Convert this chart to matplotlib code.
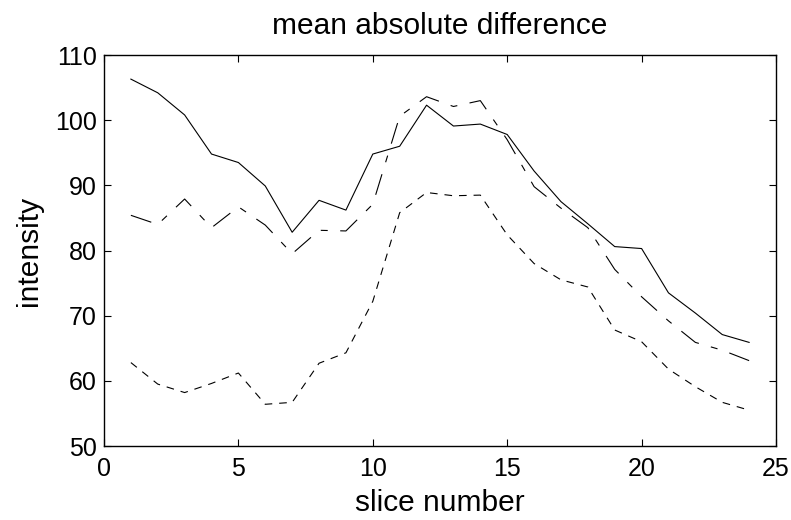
import matplotlib
matplotlib.use("Agg")
import matplotlib.pyplot as plt

slices = list(range(1, 25))
solid = [106.3, 104.2, 100.8, 94.8, 93.5, 89.9, 82.8, 87.7, 86.2, 94.8, 96.0, 102.3,
         99.1, 99.4, 97.8, 92.2, 87.5, 84.1, 80.6, 80.3, 73.5, 70.4, 67.1, 65.9]
dashdot = [85.4, 84.0, 87.9, 83.5, 86.7, 83.9, 79.5, 83.1, 83.0, 87.1, 100.6, 103.6,
           102.1, 103.0, 97.0, 89.8, 86.5, 83.5, 77.1, 72.9, 69.2, 65.9, 64.7, 63.1]
dashed = [62.8, 59.5, 58.2, 59.6, 61.2, 56.4, 56.7, 62.7, 64.3, 72.2, 85.8, 88.9,
          88.4, 88.5, 82.4, 78.0, 75.5, 74.4, 67.8, 66.0, 61.8, 59.1, 56.7, 55.5]

plt.rcParams['font.family'] = ['Liberation Sans', 'DejaVu Sans']
plt.rcParams['lines.scale_dashes'] = False

fig = plt.figure(figsize=(7.91, 5.2), dpi=100)
ax = fig.add_axes([104/791, 74/520, 672/791, 391/520])

ax.plot(slices, solid, color='black', lw=0.8, linestyle='-')
ax.plot(slices, dashdot, color='black', lw=0.8, linestyle=(0, (15.5, 9.0, 5.0, 9.0)))
ax.plot(slices, dashed, color='black', lw=0.8, linestyle=(0, (5.5, 5.0)))

ax.set_xlim(0, 25)
ax.set_ylim(50, 110)
ax.set_xticks([0, 5, 10, 15, 20, 25])
ax.set_yticks([50, 60, 70, 80, 90, 100, 110])
ax.tick_params(direction='in', top=True, right=True, labelsize=18, length=5, width=0.8, pad=5)
ax.tick_params(axis='x', pad=8)
for s in ax.spines.values():
    s.set_linewidth(1.0)
ax.set_title('mean absolute difference', fontsize=21.5, pad=15)
ax.set_xlabel('slice number', fontsize=21.5, labelpad=6)
ax.set_ylabel('intensity', fontsize=21.5, labelpad=9)

fig.savefig('out.png', dpi=100)
